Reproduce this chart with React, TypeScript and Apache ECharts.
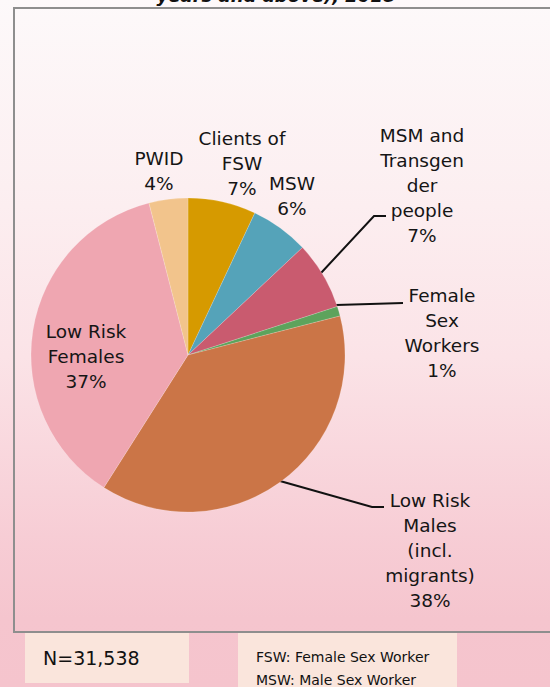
import React, { useEffect, useRef } from "react";
import * as echarts from "echarts";

const categories = [
  "Clients of\nFSW",
  "MSW",
  "MSM and\nTransgen\nder\npeople",
  "Female\nSex\nWorkers",
  "Low Risk\nMales\n(incl.\nmigrants)",
  "Low Risk\nFemales",
  "PWID",
];
const shares = [7, 6, 7, 1, 38, 37, 4];
const colors = ["#D69A00", "#55A3B9", "#C95B6F", "#5DA35C", "#CB7547", "#EFA6B1", "#F2C48C"];
const showLine = [false, false, true, true, true, false, false];
const titleText = "years and above), 2018";
const nText = "N=31,538";
const notes = ["FSW: Female Sex Worker", "MSW: Male Sex Worker"];

const labelPos: { x: number; y: number; pts?: number[][] }[] = [
  { x: 242, y: 163 },
  { x: 292, y: 196 },
  { x: 422, y: 185, pts: [[321, 273], [374, 216], [386, 216]] },
  { x: 442, y: 333, pts: [[336, 305], [370, 304], [403, 303]] },
  { x: 430, y: 550, pts: [[280, 481], [372, 507], [384, 507]] },
  { x: 86, y: 356 },
  { x: 159, y: 171 },
];

export default function App() {
  const ref = useRef<HTMLDivElement>(null);
  useEffect(() => {
    document.body.style.margin = "0";
    const chart = echarts.init(ref.current!, null, { renderer: "svg" });
    chart.setOption({
      animation: false,
      backgroundColor: "transparent",
      graphic: [
        {
          type: "rect",
          shape: { x: 14, y: 8, width: 560, height: 624 },
          style: { fill: "none", stroke: "#8E8E8E", lineWidth: 2 },
          z: 1,
        },
        {
          type: "text",
          x: 276,
          y: 4,
          style: {
            text: titleText,
            fontFamily: "DejaVu Sans",
            fontSize: 18,
            fontWeight: "bold",
            fontStyle: "italic",
            fill: "#111",
            align: "center",
            verticalAlign: "bottom",
          },
        },
        {
          type: "rect",
          shape: { x: 25, y: 633, width: 164, height: 50 },
          style: { fill: "#FAE5DC" },
        },
        {
          type: "text",
          x: 43,
          y: 658,
          style: {
            text: nText,
            fontFamily: "DejaVu Sans",
            fontSize: 19,
            fill: "#111",
            align: "left",
            verticalAlign: "middle",
          },
        },
        {
          type: "rect",
          shape: { x: 238, y: 633, width: 219, height: 60 },
          style: { fill: "#FAE5DC" },
        },
        {
          type: "text",
          x: 256,
          y: 657,
          style: {
            text: notes[0],
            fontFamily: "DejaVu Sans",
            fontSize: 14,
            fill: "#111",
            align: "left",
            verticalAlign: "middle",
          },
        },
        {
          type: "text",
          x: 256,
          y: 680,
          style: {
            text: notes[1],
            fontFamily: "DejaVu Sans",
            fontSize: 14,
            fill: "#111",
            align: "left",
            verticalAlign: "middle",
          },
        },
      ],
      series: [
        {
          type: "pie",
          center: [188, 355],
          radius: 157,
          startAngle: 90,
          clockwise: true,
          avoidLabelOverlap: false,
          itemStyle: { borderColor: "rgba(255,255,255,0.35)", borderWidth: 0.5 },
          label: {
            show: true,
            position: "outside",
            formatter: "{b}\n{c}%",
            fontFamily: "DejaVu Sans",
            fontSize: 18.5,
            lineHeight: 25,
            color: "#151515",
            align: "center",
          },
          labelLine: { show: true, lineStyle: { color: "#111", width: 2 }, length: 10, length2: 10 },
          labelLayout: (p: any) => {
            const lp = labelPos[p.dataIndex];
            const r: any = { x: lp.x, y: lp.y, align: "center", verticalAlign: "middle", hideOverlap: false };
            if (lp.pts) r.labelLinePoints = lp.pts;
            return r;
          },
          data: categories.map((name, i) => ({
            name,
            value: shares[i],
            itemStyle: { color: colors[i] },
            labelLine: { show: showLine[i] },
          })),
        },
      ],
    });
    return () => chart.dispose();
  }, []);
  return (
    <div
      style={{
        width: 550,
        height: 687,
        background:
          "linear-gradient(to bottom, #FDF9FA 0%, #FCEEF0 30%, #FBE3E7 52%, #F7CDD5 78%, #F5C5CE 90%, #F5C4CD 100%)",
      }}
    >
      <div ref={ref} style={{ width: 550, height: 687 }} />
    </div>
  );
}
